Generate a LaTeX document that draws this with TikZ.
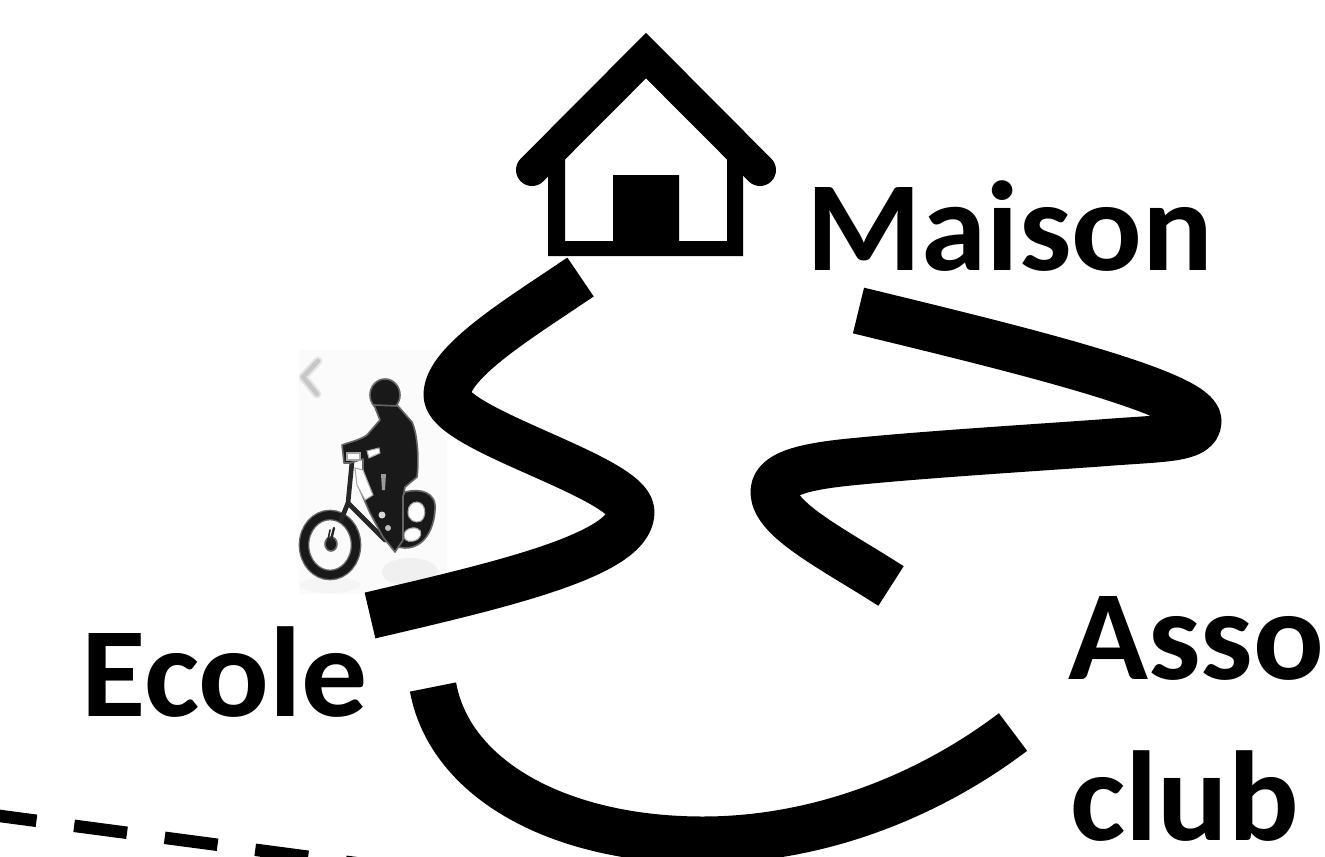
\documentclass[tikz,border=0pt]{standalone}
\usepackage{fontspec}
\setmainfont[FakeStretch=1.03]{Carlito}
\tikzset{
  road/.style={line width=47*0.75pt,black,line cap=butt,line join=round},
  lbl/.style={font=\fontsize{96}{110}\selectfont\bfseries,inner sep=0pt,anchor=base west,black},
  ink/.style={fill=black!90,draw=black!60,line width=1.2pt,line join=round},
  inkline/.style={draw=black!85,line cap=round,line join=round},
  hole/.style={fill=white,draw=black!35,line width=0.8pt}
}
\begin{document}
\begin{tikzpicture}[x=0.75pt,y=-0.75pt]
\useasboundingbox (0,0) rectangle (1325,857);
\begin{scope}
\clip (0,0) rectangle (1325,857);
% bicycle picture
\fill[black!1.5] (299,350) rectangle (447,594);
\fill[black!4] (330,585) ellipse[x radius=30,y radius=8];
\fill[black!6] (410,572) ellipse[x radius=28,y radius=14];
\draw[black!10,line width=6.5pt,line cap=round,line join=round] (318,361) -- (303,377) -- (317,394);
\draw[black!22,line width=3.5pt,line cap=round,line join=round] (318,361) -- (303,377) -- (317,394);
% rear wheel
\fill[ink] (405,492) .. controls (420,488) and (437,492) .. (435,510)
  .. controls (434,528) and (425,548) .. (405,548)
  .. controls (392,548) and (385,535) .. (388,520) -- cycle;
\fill[hole] (417,502) .. controls (426,503) and (427,516) .. (421,521)
  .. controls (415,524) and (408,520) .. (408,512) .. controls (408,506) and (412,502) .. (417,502) -- cycle;
\fill[hole] (412,528) .. controls (420,527) and (424,533) .. (418,539)
  .. controls (412,543) and (404,542) .. (404,536) .. controls (404,531) and (407,529) .. (412,528) -- cycle;
% front wheel
\draw[black!60,line width=8pt] (330,545) ellipse[x radius=26,y radius=30];
\draw[black!90,line width=6pt] (330,545) ellipse[x radius=26,y radius=30];
\fill[ink] (331,544) ellipse[x radius=6,y radius=7];
\draw[inkline,line width=1.8pt] (331,540) -- (334,528);
\draw[inkline,line width=1.2pt] (328,540) -- (330,530);
% frame
\draw[inkline,line width=3.5pt] (352,462) -- (348,503) -- (341,520);
\draw[inkline,line width=3.5pt] (348,503) -- (385,540);
% rider
\fill[ink] (385,395) ellipse[x radius=15,y radius=16];
\fill[ink] (374,405) -- (398,406) -- (412,422)
  .. controls (418,435) and (419,462) .. (417,477)
  -- (405,487) -- (403,497) -- (403,540) -- (395,552) -- (383,537) -- (370,513) -- (360,490)
  -- (363,473) -- (363,459) -- (350,463) -- (344,463) -- (342,445)
  .. controls (350,442) and (360,440) .. (367,435) -- (380,420) -- cycle;
\fill[hole] (347,453) rectangle (360,460);
\fill[hole] (367,451) -- (379,448) -- (380,453) -- (369,458) -- cycle;
\fill[hole] (355,468) -- (363,470) -- (373,495) -- (365,500) -- (357,485) -- cycle;
\fill[black!40] (381,474) -- (386,474) -- (385,490) -- (382,490) -- cycle;
\fill[black!15] (382,515) circle[radius=3.5];
\fill[black!25] (388,528) circle[radius=3];
% house
\draw[line width=32*0.75pt,line cap=round,line join=miter] (532,170) -- (646,55.5) -- (760,170);
\fill[even odd rule] (548,145) -- (646,60) -- (743,145) -- (743,256) -- (548,256) -- cycle
  (565,158) -- (646,78) -- (727,158) -- (727,241) -- (679,241) -- (679,175) -- (613,175) -- (613,241) -- (565,241) -- cycle;
% roads
\draw[road] (580.5,277) .. controls (520,318) and (447,362) .. (447,395)
  .. controls (447,430) and (631,477) .. (631,512)
  .. controls (631,555) and (500,585) .. (370,615.5);
\draw[road] (858.5,310.5) .. controls (1000,345) and (1198,392) .. (1198,421)
  .. controls (1198,440) and (1160,438) .. (1100,443)
  .. controls (1000,450) and (920,455) .. (850,462)
  .. controls (800,467) and (774,475) .. (774,492)
  .. controls (774,520) and (835,550) .. (891,586);
\draw[road] (433,687) .. controls (450,780) and (560,840) .. (703,840)
  .. controls (820,840) and (930,795) .. (1013,732);
% dashed line
\draw[line width=12.5*0.75pt,dash pattern=on 40pt off 28.5pt] (-16.4,813.8) -- (500,882.2);
\end{scope}
\node[lbl] (maison) at (806,270) {Maison};
\node[lbl] (ecole) at (81,716) {Ecole};
\node[lbl] (asso) at (1068,679) {Asso};
\node[lbl] (club) at (1070,840) {club};
\end{tikzpicture}
\end{document}
